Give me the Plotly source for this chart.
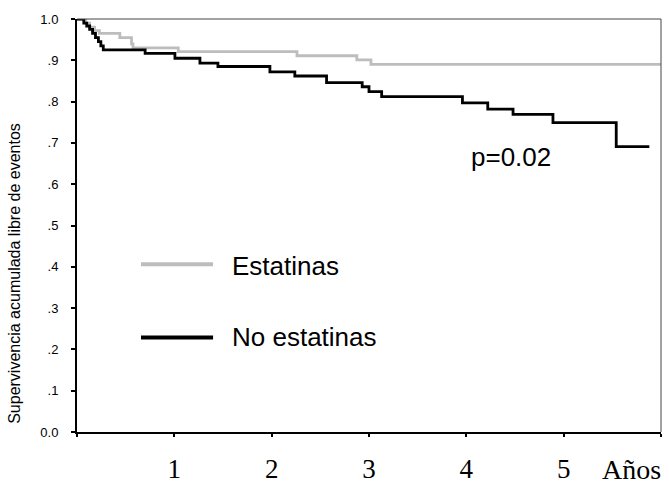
import plotly.graph_objects as go

# Kaplan-Meier style step data (time in years, cumulative event-free survival)
estatinas_t = [0.0, 0.06, 0.09, 0.13, 0.18, 0.23, 0.44, 0.56, 0.575, 1.04, 2.26, 2.875, 3.02, 6.0]
estatinas_s = [1.0, 1.0, 0.99, 0.98, 0.972, 0.965, 0.955, 0.94, 0.930, 0.921, 0.911, 0.901, 0.890, 0.890]

no_estatinas_t = [0.0, 0.04, 0.07, 0.10, 0.13, 0.16, 0.19, 0.22, 0.245, 0.27, 0.70, 1.006, 1.263,
                  1.448, 1.982, 2.238, 2.564, 2.93, 3.0, 3.13, 3.96, 4.22, 4.48, 4.89, 5.54, 5.88]
no_estatinas_s = [1.0, 1.0, 0.99, 0.983, 0.975, 0.965, 0.955, 0.945, 0.935, 0.925, 0.917, 0.905, 0.893,
                  0.885, 0.872, 0.862, 0.846, 0.836, 0.824, 0.812, 0.797, 0.782, 0.769, 0.749, 0.691, 0.691]

x_tickvals = [0, 1, 2, 3, 4, 5, 6]
x_ticktext = ["", "1", "2", "3", "4", "5", ""]
y_tickvals = [0.0, 0.1, 0.2, 0.3, 0.4, 0.5, 0.6, 0.7, 0.8, 0.9, 1.0]
y_ticktext = ["0.0", ".1", ".2", ".3", ".4", ".5", ".6", ".7", ".8", ".9", "1.0"]

legend_labels = ["Estatinas", "No estatinas"]
p_label = "p=0.02"
x_unit_label = "Años"
y_title = "Supervivencia acumulada libre de eventos"

GRAY = "#bdbdbd"
BLACK = "#000000"

fig = go.Figure()
fig.add_trace(go.Scatter(x=estatinas_t, y=estatinas_s, mode="lines", line_shape="hv",
                         line=dict(color=GRAY, width=2.8), name=legend_labels[0], showlegend=False))
fig.add_trace(go.Scatter(x=no_estatinas_t, y=no_estatinas_s, mode="lines", line_shape="hv",
                         line=dict(color=BLACK, width=2.8), name=legend_labels[1], showlegend=False))

fig.update_layout(
    width=669, height=486,
    margin=dict(l=77, r=8, t=19, b=54),
    paper_bgcolor="white", plot_bgcolor="white",
    font=dict(family="Liberation Sans, Arial, sans-serif", color="black"),
    xaxis=dict(range=[0, 6], tickvals=x_tickvals, ticktext=x_ticktext, automargin=False,
               showgrid=False, zeroline=False, showline=True, linecolor="black", linewidth=2,
               ticks="outside", ticklen=3, tickwidth=2, tickcolor="black",
               tickfont=dict(family="Liberation Serif, Times New Roman, serif", size=27),
               ticklabelstandoff=9),
    yaxis=dict(range=[0, 1], tickvals=y_tickvals, ticktext=y_ticktext, automargin=False,
               showgrid=False, zeroline=False, showline=True, linecolor="black", linewidth=2,
               ticks="outside", ticklen=4, tickwidth=2, tickcolor="black",
               tickfont=dict(size=13), ticklabelstandoff=10),
)

# top and right frame (thin)
fig.add_shape(type="line", xref="paper", yref="paper", x0=0, x1=1, y0=1, y1=1,
              line=dict(color="#444444", width=1))
fig.add_shape(type="line", xref="paper", yref="paper", x0=1, x1=1, y0=0, y1=1,
              line=dict(color="#444444", width=1))

# legend lines
fig.add_shape(type="line", xref="paper", yref="paper", x0=0.1096, x1=0.233, y0=0.406, y1=0.406,
              line=dict(color=GRAY, width=4))
fig.add_shape(type="line", xref="paper", yref="paper", x0=0.1096, x1=0.233, y0=0.229, y1=0.229,
              line=dict(color=BLACK, width=4))
fig.add_annotation(text=legend_labels[0], xref="paper", yref="paper", x=0.262, y=0.402,
                   xanchor="left", yanchor="middle", showarrow=False, font=dict(size=26))
fig.add_annotation(text=legend_labels[1], xref="paper", yref="paper", x=0.262, y=0.230,
                   xanchor="left", yanchor="middle", showarrow=False, font=dict(size=26))

fig.add_annotation(text=p_label, xref="paper", yref="paper", x=0.672, y=0.666,
                   xanchor="left", yanchor="middle", showarrow=False, font=dict(size=26))

fig.add_annotation(text=x_unit_label, xref="x", yref="paper", x=5.7, y=-0.092,
                   xanchor="center", yanchor="middle", showarrow=False,
                   font=dict(family="Liberation Serif, Times New Roman, serif", size=28))

fig.add_annotation(text=y_title, xref="paper", yref="paper", x=0, y=0.383, xshift=-62,
                   xanchor="center", yanchor="middle", textangle=-90, showarrow=False,
                   font=dict(size=16))

fig.write_html("out.html")
